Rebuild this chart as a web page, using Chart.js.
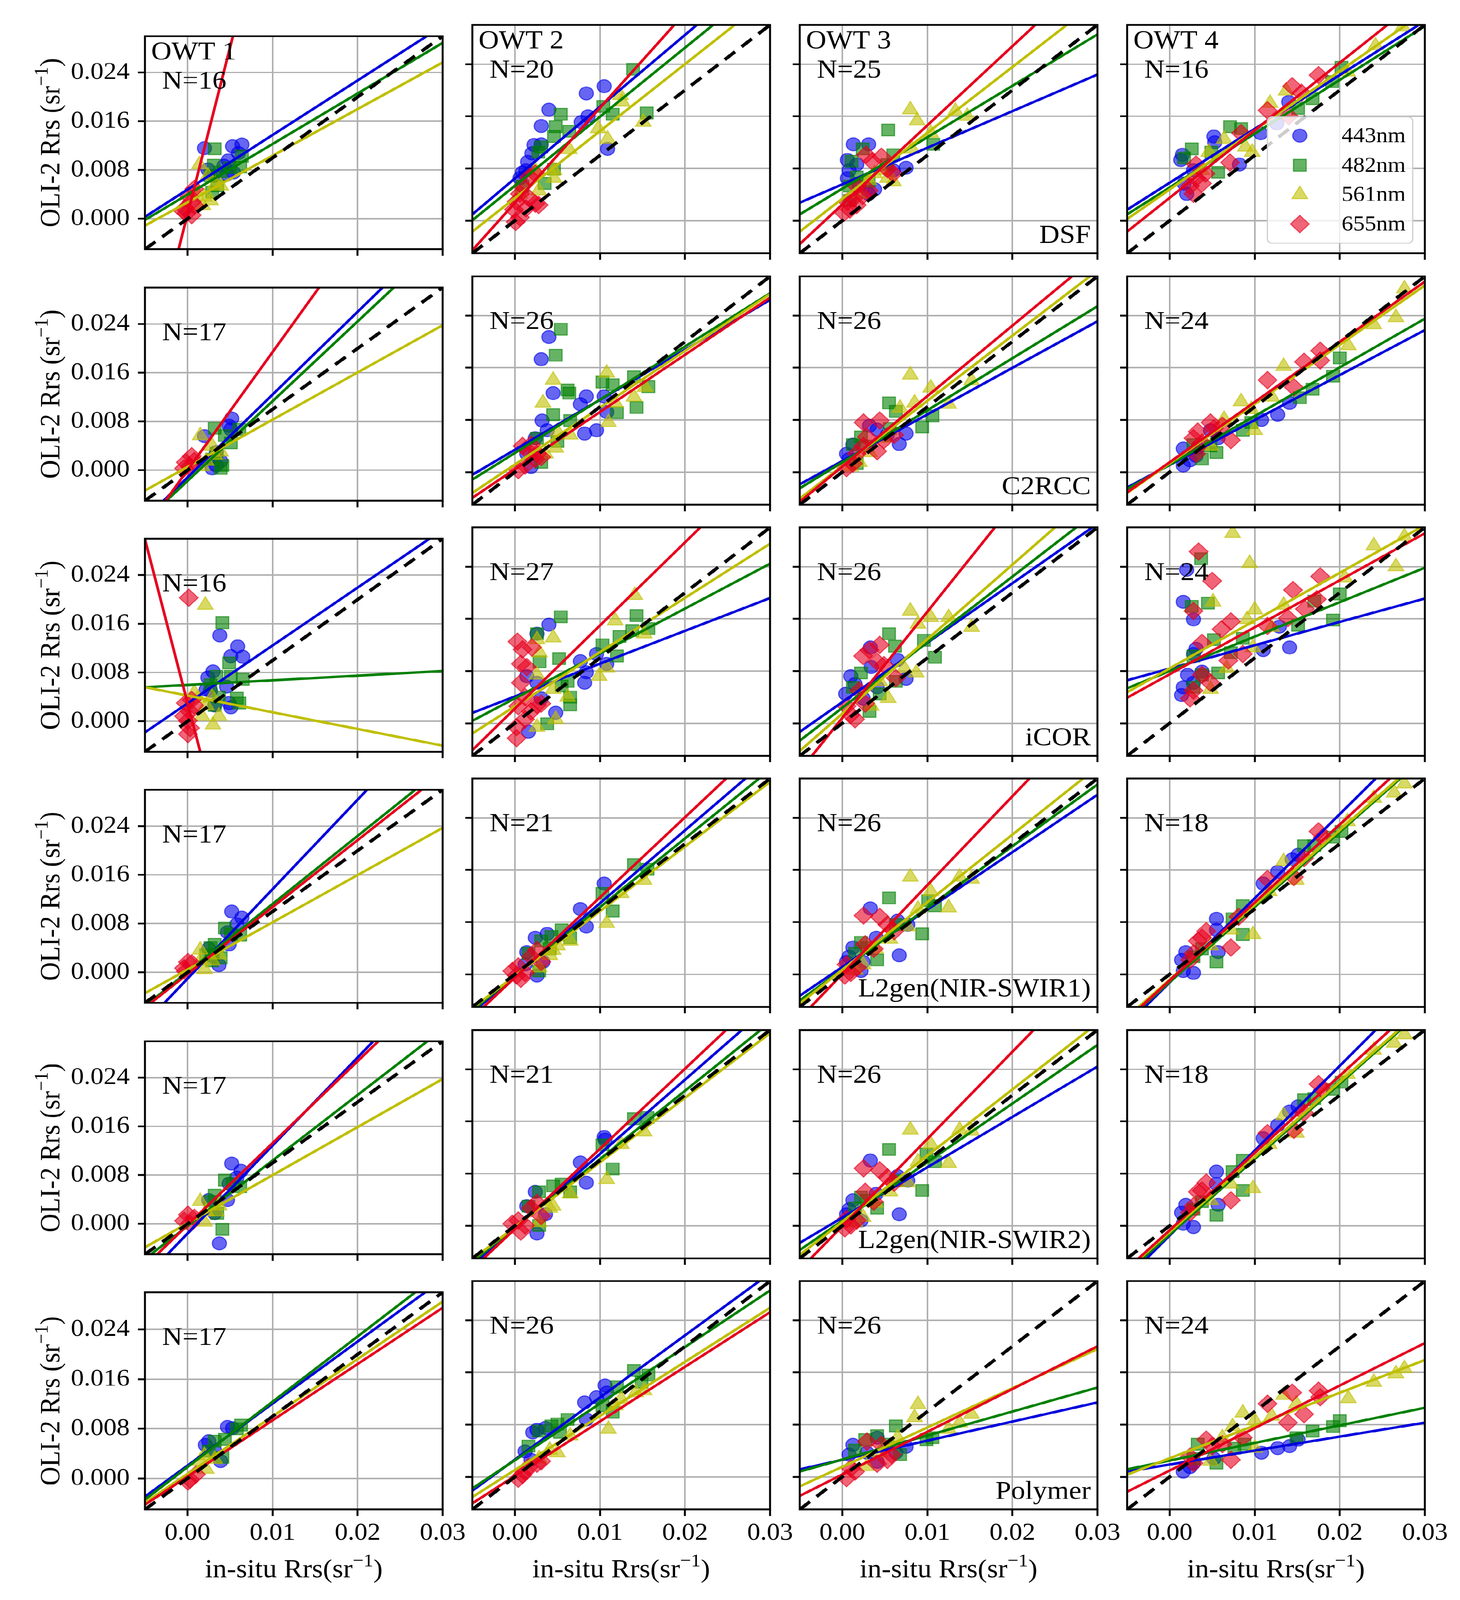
<!DOCTYPE html>
<html>
<head>
<meta charset="utf-8">
<script src="https://cdn.jsdelivr.net/npm/chart.js@4.4.1/dist/chart.umd.min.js"></script>
<style>
html, body { margin: 0; padding: 0; background: #fff; overflow: hidden; }
#page { position: relative; width: 3737px; height: 4435px; background: #fff; overflow: hidden; transform-origin: 0 0; }
#page canvas { position: absolute; }
</style>
</head>
<body>
<div id="page"></div>
<script>
// all values in units of 1e-3 sr^-1 (axis labels are printed in sr^-1)
const bands = ["443nm", "482nm", "561nm", "655nm"];
const owtNames = ["OWT 1", "OWT 2", "OWT 3", "OWT 4"];
const methods = ["DSF", "C2RCC", "iCOR", "L2gen(NIR-SWIR1)", "L2gen(NIR-SWIR2)", "Polymer"];
const axisMin = -5, axisMax = 30;
const xTicks = [0, 10, 20, 30];
const xTickLabels = ["0.00", "0.01", "0.02", "0.03"];
const yTicks = [0, 8, 16, 24];
const yTickLabels = ["0.000", "0.008", "0.016", "0.024"];
const oneToOne = [[-5, -5], [30, 30]];

// N per OWT
const dsf_n = [16, 20, 25, 16];
const c2rcc_n = [17, 26, 26, 24];
const icor_n = [16, 27, 26, 24];
const swir1_n = [17, 21, 26, 18];
const swir2_n = [17, 21, 26, 18];
const poly_n = [17, 26, 26, 24];

// regression lines, per OWT: [443, 482, 561, 655]
const dsf_slope = [[0.896, 0.831, 0.766, 5.48], [1.10, 1.058, 1.027, 1.455], [0.561, 0.788, 1.009, 1.213], [0.826, 0.824, 0.907, 1.035]];
const dsf_icpt = [[4.8, 3.97, 2.7, 0.72], [6.46, 5.34, 3.45, 2.73], [5.56, 4.9, 3.36, 2.47], [5.8, 5.08, 4.78, 3.5]];
const c2rcc_slope = [[1.36, 1.31, 0.776, 1.94], [0.766, 0.816, 0.871, 0.877], [0.714, 0.797, 0.999, 1.08], [0.689, 0.746, 0.909, 0.923]];
const c2rcc_icpt = [[-1.18, -1.76, 0.54, 0.0], [3.42, 2.93, 1.16, 0.44], [1.69, 1.5, 0.93, 0.84], [1.09, 1.13, 1.34, 1.51]];
const icor_slope = [[0.951, 0.0763, -0.274, -5.37], [0.503, 0.688, 0.831, 1.274], [0.911, 1.0055, 1.142, 1.628], [0.358, 0.528, 0.732, 0.72]];
const icor_icpt = [[2.94, 5.98, 4.23, 3.05], [4.09, 3.8, 2.58, 2.23], [3.22, 2.35, 1.45, 0.8], [8.36, 7.99, 8.4, 7.5]];
const swir1_slope = [[1.47, 1.118, 0.776, 1.10], [1.118, 1.054, 0.991, 1.228], [0.88, 0.946, 1.036, 1.362], [1.29, 1.151, 1.146, 1.195]];
const swir1_icpt = [[-1.03, 0.06, 0.47, -0.27], [-0.3, -0.26, -0.24, -0.5], [1.11, 0.71, 0.68, 0.04], [-1.25, -1.2, -0.82, -0.94]];
const swir2_slope = [[1.446, 1.077, 0.79, 1.346], [1.138, 1.048, 0.99, 1.228], [0.772, 0.898, 1.014, 1.336], [1.30, 1.156, 1.151, 1.184]];
const swir2_icpt = [[-1.59, -0.37, 0.1, -0.2], [-0.38, -0.28, -0.2, -0.5], [1.23, 0.76, 0.61, -0.06], [-1.49, -1.34, -0.97, -0.68]];
const poly_slope = [[1.0, 1.052, 0.926, 0.907], [0.952, 0.867, 0.829, 0.837], [0.293, 0.368, 0.602, 0.655], [0.214, 0.27, 0.502, 0.651]];
const poly_icpt = [[2.07, 1.84, 0.73, 0.3], [2.64, 2.55, 1.04, 0.12], [2.61, 2.65, 1.54, 0.35], [1.88, 2.49, 2.84, 0.97]];

// ---- DSF ----
const dsf_o1_443 = [[2.0,11.6],[5.3,11.9],[6.4,12.2],[6.0,10.8],[4.8,9.6],[2.4,8.1],[4.65,7.3],[3.1,7.05],[4.3,8.7],[5.4,7.6]];
const dsf_o1_482 = [[3.2,11.5],[6.4,10.3],[6.2,8.5],[3.1,8.8],[2.7,7.05],[3.9,7.7],[3.5,5.4],[2.9,4.4],[5.0,8.4]];
const dsf_o1_561 = [[1.4,8.9],[2.4,7.05],[3.3,5.7],[3.9,5.4],[2.0,3.6],[1.8,2.2],[1.0,4.4],[2.7,3.0]];
const dsf_o1_655 = [[0.8,4.9],[0.1,3.8],[0.5,2.8],[-0.3,1.7],[-0.1,0.9],[0.5,0.6],[0.8,2.2],[-0.5,1.3]];
const dsf_o2_443 = [[10.5,20.6],[8.4,19.5],[4.0,17.0],[3.1,14.5],[7.8,15.1],[8.6,16.0],[2.25,11.6],[3.1,11.7],[2.0,10.3],[10.9,11.0],[0.9,7.4],[0.6,6.5],[1.3,7.7],[1.5,9.0]];
const dsf_o2_482 = [[13.9,23.2],[5.4,16.3],[15.5,16.5],[10.4,17.5],[11.5,16.3],[4.8,14.4],[6.4,13.7],[4.6,12.9],[3.1,11.3],[2.75,10.5],[4.6,7.9],[3.5,5.7],[0.9,5.3]];
const dsf_o2_561 = [[12.4,19.2],[12.6,18.2],[9.8,14.1],[15.1,15.1],[10.9,12.5],[6.4,10.9],[4.6,7.7],[4.6,6.5],[2.8,4.6],[0.6,4.1],[2.4,7.7]];
const dsf_o2_655 = [[1.7,6.7],[2.4,7.2],[0.9,5.3],[0.6,4.1],[0.2,2.9],[-0.1,1.7],[0.6,0.5],[2.4,2.6],[1.7,3.4],[0.1,-0.2],[1.3,1.9],[2.8,2.4]];
const dsf_o3_443 = [[1.3,11.7],[3.1,11.7],[0.6,9.3],[1.7,8.6],[7.5,8.1],[6.0,7.7],[0.6,6.5],[3.8,4.8],[3.1,4.1],[0.8,7.7],[2.0,5.3]];
const dsf_o3_482 = [[5.4,13.9],[10.7,11.7],[2.4,11.0],[6.0,10.1],[5.3,8.6],[1.1,9.1],[1.7,6.7],[3.1,6.0],[0.9,5.3],[0.9,3.1]];
const dsf_o3_561 = [[8.0,17.0],[8.8,15.3],[13.3,16.8],[14.7,16.0],[10.4,13.4],[8.2,11.0],[4.6,7.7],[5.3,6.5],[3.1,6.2],[6.0,6.0],[2.0,4.1],[3.8,7.2]];
const dsf_o3_655 = [[2.8,10.1],[4.6,9.8],[3.5,9.1],[6.0,7.2],[5.3,7.9],[1.7,5.3],[2.4,3.8],[0.6,2.9],[0.9,1.7],[0.2,1.2],[1.7,2.4],[1.3,3.4],[3.1,4.6]];
const dsf_o4_443 = [[1.5,10.1],[1.3,9.3],[5.2,12.9],[5.3,12.0],[10.7,13.4],[12.6,14.9],[14.0,18.2],[1.7,5.7],[2.0,4.1],[2.8,7.7],[8.2,8.6]];
const dsf_o4_482 = [[7.1,14.4],[8.4,14.1],[2.6,11.0],[4.9,10.5],[5.7,7.4],[15.1,17.2],[16.8,18.7],[19.1,21.3],[20.2,23.5],[1.7,9.6]];
const dsf_o4_561 = [[11.8,18.0],[13.7,19.9],[8.9,11.3],[9.7,10.5],[6.4,12.5],[4.6,10.5],[20.9,22.8],[24.2,26.8],[27.4,29.7],[3.8,7.7]];
const dsf_o4_655 = [[17.5,22.3],[14.4,20.6],[15.5,19.6],[11.5,16.9],[14.0,16.0],[8.4,13.4],[7.1,8.9],[3.1,8.6],[3.1,6.5],[2.4,5.3],[2.8,4.1],[3.8,5.7],[4.2,7.2]];

// ---- C2RCC ----
const c2rcc_o1_443 = [[5.2,8.5],[4.9,7.3],[2.0,5.6],[3.4,3.0],[3.4,0.8],[2.9,0.3],[5.1,6.7],[3.9,1.5]];
const c2rcc_o1_482 = [[3.2,6.9],[4.4,5.7],[5.1,4.5],[6.1,6.7],[4.1,0.8],[3.4,2.8],[2.9,1.8],[3.9,0.3]];
const c2rcc_o1_561 = [[1.5,5.7],[2.9,4.0],[3.9,3.0],[2.2,1.5],[1.7,0.6],[3.2,2.5]];
const c2rcc_o1_655 = [[0.5,2.3],[-0.2,1.3],[0.3,0.6],[-0.4,0.3],[0.8,1.5]];
const c2rcc_o2_443 = [[4.0,20.7],[3.1,17.3],[4.5,12.1],[8.4,11.6],[7.7,10.4],[10.8,9.2],[10.5,11.6],[3.2,7.9],[8.2,5.9],[9.6,6.4],[2.4,5.2],[1.9,0.8],[3.8,6.4],[1.4,2.8]];
const c2rcc_o2_482 = [[5.4,21.9],[4.8,17.9],[6.2,12.6],[6.4,12.1],[10.3,13.8],[11.5,13.4],[14.0,14.6],[15.7,13.1],[14.3,9.9],[12.0,9.1],[4.5,8.8],[6.5,7.9],[5.0,4.7],[2.6,5.2],[3.1,1.5]];
const c2rcc_o2_561 = [[10.8,15.2],[4.5,14.1],[3.3,10.6],[14.0,11.5],[15.3,13.0],[11.0,7.6],[11.8,10.6],[6.5,5.7],[4.8,3.7],[3.6,2.8],[5.0,6.2]];
const c2rcc_o2_655 = [[0.9,4.0],[1.6,3.2],[2.4,2.0],[0.4,0.3],[1.2,1.0],[2.6,2.8],[1.9,4.2],[3.1,2.3]];
const c2rcc_o3_443 = [[3.2,7.1],[4.1,6.5],[7.5,5.9],[6.7,4.3],[0.8,2.0],[1.25,4.2],[0.5,2.8],[5.3,5.7]];
const c2rcc_o3_482 = [[5.5,10.6],[6.3,9.3],[10.6,8.6],[9.4,6.9],[2.2,5.4],[1.25,4.2],[1.7,1.3],[5.6,6.7],[2.9,4.0]];
const c2rcc_o3_561 = [[8.0,14.9],[15.2,14.0],[10.4,12.9],[8.5,10.6],[12.5,10.4],[6.8,9.8],[4.9,5.2],[3.2,3.0],[2.0,1.5],[1.0,0.8]];
const c2rcc_o3_655 = [[2.5,7.6],[4.4,7.9],[2.9,5.4],[4.9,4.9],[6.1,5.7],[4.1,3.2],[1.7,2.8],[0.5,0.6],[1.25,1.3],[2.5,4.0]];
const c2rcc_o4_443 = [[1.6,3.6],[1.6,1.0],[2.4,1.8],[4.8,6.4],[5.7,5.2],[10.8,8.0],[12.7,8.8],[14.1,10.6],[3.1,2.5],[3.3,3.7]];
const c2rcc_o4_482 = [[2.8,4.2],[3.8,2.0],[5.5,3.0],[8.6,6.4],[9.6,7.6],[15.3,11.4],[16.8,12.7],[19.2,14.7],[20.0,17.5],[4.8,4.0]];
const c2rcc_o4_561 = [[13.4,16.2],[21.0,19.4],[24.0,22.6],[26.6,23.7],[27.6,28.1],[12.0,11.5],[8.4,10.8],[9.6,9.6],[10.0,6.4],[6.4,8.1],[4.8,4.0]];
const c2rcc_o4_655 = [[17.7,18.6],[15.8,16.9],[17.7,17.1],[11.5,14.1],[14.6,13.0],[4.8,7.6],[7.2,4.9],[3.3,6.2],[2.8,5.2],[5.2,6.7],[3.8,4.5],[3.1,2.8],[6.2,7.1]];

// ---- iCOR ----
const icor_o1_443 = [[3.8,14.1],[5.9,12.3],[5.1,10.7],[6.5,10.6],[3.0,8.2],[2.4,7.2],[4.6,5.7],[2.2,5.2],[4.9,3.0],[5.1,2.3],[3.2,2.6],[2.7,5.0]];
const icor_o1_482 = [[4.1,16.2],[4.9,9.6],[3.4,7.4],[5.1,7.4],[6.5,6.9],[2.7,6.0],[5.8,3.8],[6.1,3.0],[3.2,2.6],[3.7,4.0]];
const icor_o1_561 = [[2.1,19.1],[0.8,4.7],[2.9,4.0],[1.7,0.85],[3.7,0.85],[3.0,-0.6],[1.25,3.8],[2.2,2.6]];
const icor_o1_655 = [[0.15,20.3],[-0.2,3.0],[0.3,1.6],[0.05,0.1],[0.3,-1.1],[0.05,-2.1],[0.8,2.6],[-0.4,0.85],[0.5,3.5]];
const icor_o2_443 = [[4.0,15.1],[2.6,13.7],[7.7,9.5],[8.4,7.8],[8.2,6.2],[9.6,10.6],[10.8,9.1],[4.8,1.6],[1.6,-1.3],[1.4,7.2],[2.6,6.2],[3.1,3.8]];
const icor_o2_482 = [[5.4,16.3],[14.3,16.5],[13.8,14.2],[15.7,14.5],[12.3,13.3],[10.3,12.0],[12.0,10.3],[5.2,9.9],[2.6,13.7],[2.9,9.4],[6.2,6.4],[6.5,4.0],[6.5,2.8],[3.8,-0.1],[5.5,5.7]];
const icor_o2_561 = [[14.1,19.6],[11.8,15.7],[4.5,13.1],[2.6,12.8],[15.2,13.7],[10.8,8.5],[9.9,7.2],[6.2,4.0],[4.5,5.2],[2.6,-0.6],[4.8,0.6],[2.9,10.8],[2.6,7.4]];
const icor_o2_655 = [[0.3,12.5],[0.9,11.3],[2.0,11.6],[0.7,9.1],[1.4,8.6],[0.7,6.2],[1.2,4.0],[0.4,2.6],[2.6,2.8],[1.2,0.6],[0.2,-0.6],[0.2,-2.3],[1.9,1.8],[3.1,3.0]];
const icor_o3_443 = [[3.3,11.6],[6.5,9.7],[7.5,6.8],[1.0,7.2],[0.4,4.5],[4.1,5.5],[1.5,6.0],[2.45,3.8],[3.4,8.6]];
const icor_o3_482 = [[5.5,13.7],[6.2,11.8],[9.6,12.7],[10.9,10.1],[2.2,7.7],[6.3,6.4],[4.4,4.5],[3.2,1.8],[1.25,5.5]];
const icor_o3_561 = [[8.0,17.2],[10.4,16.2],[12.5,16.2],[15.2,14.7],[8.9,15.2],[8.7,7.7],[7.3,8.4],[5.4,3.8],[3.4,2.6],[4.4,6.4]];
const icor_o3_655 = [[4.4,12.0],[3.2,11.2],[2.45,10.3],[4.1,9.4],[4.9,8.9],[6.3,6.9],[2.0,5.0],[2.7,3.0],[0.5,2.6],[1.5,0.6],[1.0,1.3]];
const icor_o4_443 = [[2.0,23.5],[1.6,18.6],[2.8,15.9],[12.9,14.8],[14.1,11.6],[11.0,11.2],[3.1,11.4],[2.8,10.6],[2.1,7.4],[1.6,5.5],[1.4,4.3],[2.8,6.2],[3.8,7.9]];
const icor_o4_482 = [[3.7,25.2],[2.6,17.9],[4.5,18.4],[20.0,19.8],[19.2,15.8],[15.1,15.0],[17.0,18.7],[8.6,13.0],[5.2,12.8],[2.8,10.3],[7.2,10.8],[3.8,7.4],[2.8,5.5],[5.7,7.7]];
const icor_o4_561 = [[7.4,29.1],[9.4,24.5],[26.6,24.0],[27.6,28.6],[24.0,27.2],[5.1,18.6],[10.0,17.4],[13.4,18.1],[9.1,15.9],[20.6,22.3],[12.0,14.7],[6.7,8.4],[4.8,5.2],[9.8,11.6]];
const icor_o4_655 = [[3.4,26.3],[5.0,21.8],[17.7,22.5],[14.5,20.4],[17.3,19.0],[15.9,17.5],[13.9,16.1],[7.2,15.6],[6.1,14.4],[2.8,17.2],[11.5,14.9],[3.8,12.3],[8.6,10.6],[6.9,9.6],[3.8,7.4],[2.8,5.0],[4.8,6.2],[2.4,3.8]];

// ---- L2gen(NIR-SWIR1) ----
const swir1_o1_443 = [[5.2,10.0],[6.4,9.0],[5.8,7.9],[4.7,6.6],[4.9,4.6],[2.5,3.9],[3.7,1.2],[2.9,2.7]];
const swir1_o1_482 = [[4.4,7.3],[5.1,6.3],[6.2,6.1],[3.2,4.6],[2.7,4.1],[3.9,2.4],[2.9,1.9],[2.2,2.9]];
const swir1_o1_561 = [[1.5,3.7],[2.9,1.9],[2.0,0.5],[3.7,2.9],[1.5,1.9]];
const swir1_o1_655 = [[0.05,1.7],[-0.4,0.7],[0.5,1.5],[-0.2,0.2]];
const swir1_o2_443 = [[10.5,13.9],[7.7,10.0],[8.4,7.3],[2.4,5.6],[3.8,6.2],[1.4,3.4],[2.6,-0.2],[3.3,1.9],[1.2,1.5]];
const swir1_o2_482 = [[14.0,16.8],[15.6,16.1],[10.3,12.4],[11.5,9.7],[5.5,6.8],[6.5,5.6],[4.3,5.8],[3.1,5.1],[1.6,3.2],[2.85,0.5],[4.1,3.9]];
const swir1_o2_561 = [[15.2,14.4],[12.5,12.4],[10.8,7.8],[6.5,5.1],[4.5,3.7],[4.1,2.9],[2.85,1.0],[5.0,4.4]];
const swir1_o2_655 = [[2.6,3.7],[1.9,2.7],[0.4,1.2],[-0.3,0.5],[0.7,-0.7],[1.2,0.2],[3.1,1.9],[0.2,-0.2]];
const swir1_o3_443 = [[3.3,10.1],[6.5,8.2],[7.7,7.6],[4.0,5.6],[1.25,4.1],[0.8,2.7],[0.5,1.9],[2.2,0.5],[6.7,2.9],[2.45,1.9]];
const swir1_o3_482 = [[5.5,11.7],[10.1,11.3],[10.9,10.5],[9.4,6.2],[6.3,7.6],[2.2,4.9],[4.1,2.2],[1.5,3.2],[2.9,4.1]];
const swir1_o3_561 = [[8.0,14.9],[10.4,12.7],[12.5,10.2],[13.8,14.9],[15.2,14.6],[8.9,10.0],[7.7,7.3],[5.6,5.4],[3.9,3.9],[2.45,1.5],[1.5,0.7]];
const swir1_o3_655 = [[2.5,9.0],[4.4,8.8],[5.3,7.6],[6.1,6.6],[3.7,3.9],[2.7,4.6],[0.5,1.5],[1.0,0.2],[0.3,-0.2],[1.7,1.0]];
const swir1_o4_443 = [[5.5,8.5],[11.0,13.9],[12.7,15.7],[14.4,17.6],[15.1,18.3],[1.9,3.4],[1.4,2.2],[1.6,0.5],[2.8,0.2],[5.5,6.8],[5.7,3.4]];
const swir1_o4_482 = [[8.6,10.5],[7.4,8.5],[8.6,6.1],[5.5,1.9],[2.8,2.7],[15.8,19.7],[17.0,19.7],[19.2,21.0],[20.2,21.9],[3.8,3.9]];
const swir1_o4_561 = [[13.4,17.3],[14.9,14.4],[11.7,12.7],[20.9,23.4],[24.0,27.0],[26.4,27.8],[27.6,29.2],[9.8,6.1],[7.2,6.8],[4.8,4.4]];
const swir1_o4_655 = [[17.5,21.9],[18.0,21.0],[11.5,14.6],[14.6,14.9],[15.8,17.8],[7.2,4.1],[4.3,6.6],[3.3,5.1],[2.8,3.2],[3.8,5.6],[2.4,2.2],[8.1,8.8]];

// ---- L2gen(NIR-SWIR2) ----
const swir2_o1_443 = [[5.2,9.9],[6.3,8.7],[4.9,6.6],[4.7,3.9],[2.5,3.9],[3.75,-3.2],[3.2,1.75],[5.8,7.6]];
const swir2_o1_482 = [[4.4,7.2],[6.2,6.1],[5.3,6.6],[3.2,4.7],[3.5,1.75],[4.1,-0.9],[2.7,3.7]];
const swir2_o1_561 = [[1.5,3.7],[2.0,0.3],[3.7,3.0],[2.2,2.0],[3.4,2.0]];
const swir2_o1_655 = [[0.05,1.5],[-0.4,0.5],[0.8,1.0],[0.3,0.05]];
const swir2_o2_443 = [[10.5,13.6],[10.6,13.2],[7.7,9.7],[8.4,6.6],[2.4,5.2],[1.4,3.0],[2.6,-1.2],[3.6,1.75]];
const swir2_o2_482 = [[14.0,16.4],[15.6,16.6],[10.3,12.4],[11.5,8.7],[5.5,6.4],[6.5,5.2],[4.5,6.1],[2.85,5.2],[1.6,3.0],[2.85,0.05]];
const swir2_o2_561 = [[15.2,14.4],[12.5,12.5],[10.8,7.1],[6.5,4.9],[4.5,3.0],[4.1,2.7],[2.85,0.5]];
const swir2_o2_655 = [[2.6,3.5],[1.9,2.7],[0.4,0.8],[-0.3,0.3],[0.7,-0.9],[1.2,0.05],[3.1,1.5]];
const swir2_o3_443 = [[3.3,10.0],[6.5,7.6],[7.7,6.9],[4.0,4.9],[1.25,3.9],[0.8,2.5],[0.5,1.75],[2.2,0.8],[6.7,1.75]];
const swir2_o3_482 = [[5.5,11.7],[9.9,11.0],[10.9,9.8],[9.4,5.4],[6.3,6.9],[2.2,4.4],[4.1,2.7],[1.5,2.7],[2.9,3.9]];
const swir2_o3_561 = [[8.0,14.7],[10.4,12.5],[12.5,9.6],[13.8,14.7],[15.2,14.5],[8.9,9.8],[7.7,6.6],[5.6,5.2],[3.9,3.5],[2.45,1.3],[1.5,0.5]];
const swir2_o3_655 = [[2.5,8.8],[4.4,8.5],[5.3,7.4],[6.1,6.6],[3.7,3.7],[2.7,5.2],[0.5,1.0],[1.0,0.05],[0.3,-0.4],[1.7,0.8]];
const swir2_o4_443 = [[5.5,8.3],[11.0,13.4],[12.7,15.4],[14.1,17.5],[15.1,18.3],[1.9,3.2],[1.4,2.0],[1.6,0.3],[2.8,-0.2],[5.5,6.4],[5.7,3.2]];
const swir2_o4_482 = [[8.6,10.0],[7.4,8.3],[8.6,5.4],[5.5,1.6],[2.8,2.5],[15.8,19.3],[17.0,19.5],[19.2,20.9],[20.2,22.0],[3.8,3.7]];
const swir2_o4_561 = [[13.4,16.9],[14.9,14.2],[11.7,12.5],[20.9,23.2],[24.0,26.9],[26.4,28.0],[27.6,29.3],[9.8,5.7],[7.2,6.4],[4.8,3.9]];
const swir2_o4_655 = [[17.5,21.7],[18.0,20.8],[11.5,14.2],[14.6,14.7],[15.8,17.3],[7.2,3.9],[4.3,6.6],[3.3,5.2],[2.8,3.0],[3.8,5.4],[2.4,2.0]];

// ---- Polymer ----
const poly_o1_443 = [[4.7,8.3],[5.3,8.1],[2.1,5.4],[2.5,6.0],[3.9,2.8],[3.2,4.4]];
const poly_o1_482 = [[6.3,8.6],[5.8,8.0],[3.2,6.0],[4.4,6.3],[4.1,3.4],[2.5,4.4]];
const poly_o1_561 = [[2.0,3.7],[2.2,1.5],[1.5,2.8],[3.2,3.1]];
const poly_o1_655 = [[0.3,-0.2],[1.0,0.65],[0.05,-0.5]];
const poly_o2_443 = [[10.6,14.0],[10.8,12.9],[9.6,12.2],[8.2,11.4],[8.4,8.8],[2.6,7.2],[2.1,6.8],[3.6,7.5],[1.2,3.9],[1.9,2.6]];
const poly_o2_482 = [[14.0,16.3],[15.7,15.6],[14.9,14.5],[12.0,13.8],[11.5,9.9],[10.3,10.9],[6.2,8.8],[5.0,8.1],[4.3,7.8],[5.3,6.8],[2.85,7.0],[1.6,4.7]];
const poly_o2_561 = [[14.2,12.9],[15.2,13.2],[12.5,11.9],[11.8,10.9],[11.0,7.3],[6.5,6.3],[5.0,3.7],[4.1,4.1],[2.85,2.8]];
const poly_o2_655 = [[3.1,2.4],[2.6,2.0],[1.6,1.5],[0.9,0.3],[0.4,-0.3],[1.2,0.8]];
const poly_o3_443 = [[1.25,4.9],[4.1,6.0],[7.5,4.6],[6.3,3.7],[4.1,2.3],[0.8,3.4],[2.9,3.7]];
const poly_o3_482 = [[2.7,5.7],[4.1,6.3],[6.3,7.8],[9.9,5.7],[10.6,6.0],[1.5,4.1],[5.3,5.0],[6.8,3.4]];
const poly_o3_561 = [[8.9,11.1],[8.5,9.1],[15.2,9.6],[13.8,8.3],[12.5,7.3],[6.5,6.0],[4.4,3.7],[2.9,1.6]];
const poly_o3_655 = [[2.9,5.4],[4.6,4.9],[5.8,3.4],[5.3,2.6],[4.1,2.0],[1.5,0.8],[0.5,-0.2],[1.0,1.3]];
const poly_o4_443 = [[1.6,0.8],[2.4,1.5],[10.8,3.7],[12.7,4.4],[14.1,4.7],[15.1,5.7],[5.2,2.8],[2.8,2.1]];
const poly_o4_482 = [[3.3,5.0],[5.5,2.1],[7.6,4.4],[16.8,7.0],[19.2,7.7],[20.0,8.6],[8.8,5.0],[14.9,6.0],[2.8,2.8]];
const poly_o4_561 = [[8.6,9.8],[10.0,8.6],[12.0,9.3],[13.4,12.5],[14.9,11.2],[21.0,12.0],[24.0,14.5],[26.6,15.8],[27.6,16.6],[7.4,7.7],[10.0,4.4],[4.8,2.4],[6.2,6.0]];
const poly_o4_655 = [[11.5,11.2],[14.4,12.9],[17.5,13.2],[17.7,12.2],[15.8,9.6],[13.9,8.3],[7.2,2.6],[8.6,6.0],[4.3,5.7],[5.0,4.7],[2.8,2.1],[2.4,3.1],[6.2,5.0]];

// tables built from the arrays above: [method row][owt column][band]
const panelPoints = [
  [[dsf_o1_443, dsf_o1_482, dsf_o1_561, dsf_o1_655], [dsf_o2_443, dsf_o2_482, dsf_o2_561, dsf_o2_655],
   [dsf_o3_443, dsf_o3_482, dsf_o3_561, dsf_o3_655], [dsf_o4_443, dsf_o4_482, dsf_o4_561, dsf_o4_655]],
  [[c2rcc_o1_443, c2rcc_o1_482, c2rcc_o1_561, c2rcc_o1_655], [c2rcc_o2_443, c2rcc_o2_482, c2rcc_o2_561, c2rcc_o2_655],
   [c2rcc_o3_443, c2rcc_o3_482, c2rcc_o3_561, c2rcc_o3_655], [c2rcc_o4_443, c2rcc_o4_482, c2rcc_o4_561, c2rcc_o4_655]],
  [[icor_o1_443, icor_o1_482, icor_o1_561, icor_o1_655], [icor_o2_443, icor_o2_482, icor_o2_561, icor_o2_655],
   [icor_o3_443, icor_o3_482, icor_o3_561, icor_o3_655], [icor_o4_443, icor_o4_482, icor_o4_561, icor_o4_655]],
  [[swir1_o1_443, swir1_o1_482, swir1_o1_561, swir1_o1_655], [swir1_o2_443, swir1_o2_482, swir1_o2_561, swir1_o2_655],
   [swir1_o3_443, swir1_o3_482, swir1_o3_561, swir1_o3_655], [swir1_o4_443, swir1_o4_482, swir1_o4_561, swir1_o4_655]],
  [[swir2_o1_443, swir2_o1_482, swir2_o1_561, swir2_o1_655], [swir2_o2_443, swir2_o2_482, swir2_o2_561, swir2_o2_655],
   [swir2_o3_443, swir2_o3_482, swir2_o3_561, swir2_o3_655], [swir2_o4_443, swir2_o4_482, swir2_o4_561, swir2_o4_655]],
  [[poly_o1_443, poly_o1_482, poly_o1_561, poly_o1_655], [poly_o2_443, poly_o2_482, poly_o2_561, poly_o2_655],
   [poly_o3_443, poly_o3_482, poly_o3_561, poly_o3_655], [poly_o4_443, poly_o4_482, poly_o4_561, poly_o4_655]]
];
const panelSlope = [dsf_slope, c2rcc_slope, icor_slope, swir1_slope, swir2_slope, poly_slope];
const panelIcpt = [dsf_icpt, c2rcc_icpt, icor_icpt, swir1_icpt, swir2_icpt, poly_icpt];
const panelN = [dsf_n, c2rcc_n, icor_n, swir1_n, swir2_n, poly_n];

// styles
const lineColors = ["#0000dd", "#008000", "#bfbf00", "#e6001e"];
const markerColors = ["rgba(0,0,235,0.6)", "rgba(0,128,0,0.6)", "rgba(191,191,0,0.6)", "rgba(230,0,30,0.6)"];
const markerShapes = ["circle", "rect", "triangle", "rectRot"];
const markerSizes = [18, 23, 23, 24];
const FONT = "Liberation Serif";

// layout (design pixels, 3737 x 4435)
const colLeft = [371, 1209, 2047, 2885];
const rowTop = [69, 766, 1462, 2158, 2855, 3551];
const panelW = 762, panelH = 633;
const pageW = 3737, pageH = 4435;

// the window may be shorter than the design height: squeeze the page to fit it
const page = document.getElementById("page");
const fitY = Math.min(1, (window.innerHeight || pageH) / pageH);
const fitX = Math.min(1, (window.innerWidth || pageW) / pageW);
page.style.transform = "scale(" + fitX + "," + fitY + ")";

Chart.defaults.font.family = FONT;

function drawSupText(ctx, x, y, parts, size) {
  const fonts = parts.map(p => (p[1] ? Math.round(size * 0.7) : size) + 'px "' + FONT + '"');
  let total = 0;
  const widths = parts.map((p, i) => {
    ctx.font = fonts[i];
    const w = ctx.measureText(p[0]).width;
    total += w;
    return w;
  });
  let cx = x - total / 2;
  ctx.textAlign = "left";
  ctx.textBaseline = "alphabetic";
  parts.forEach((p, i) => {
    ctx.font = fonts[i];
    ctx.fillText(p[0], cx, p[1] ? y - size * 0.42 : y);
    cx += widths[i];
  });
}

const panelDecor = {
  id: "panelDecor",
  afterDraw(chart, args, opts) {
    const ctx = chart.ctx;
    const ca = chart.chartArea;
    ctx.save();
    // frame
    ctx.strokeStyle = "#000";
    ctx.lineWidth = 5;
    ctx.strokeRect(ca.left, ca.top, ca.right - ca.left, ca.bottom - ca.top);

    ctx.fillStyle = "#000";
    ctx.textBaseline = "alphabetic";
    ctx.font = '72px "' + FONT + '"';
    ctx.textAlign = "left";
    if (opts.row === 0) ctx.fillText(owtNames[opts.col], ca.left + 16, ca.top + 65);
    ctx.fillText("N=" + panelN[opts.row][opts.col], ca.left + 44, ca.top + 146);
    if (opts.col === 2) {
      ctx.textAlign = "right";
      ctx.fillText(methods[opts.row], ca.right - 17, ca.bottom - 29);
    }

    // axis titles
    if (opts.col === 0) {
      ctx.save();
      ctx.translate(152, (ca.top + ca.bottom) / 2);
      ctx.rotate(-Math.PI / 2);
      drawSupText(ctx, 0, 0, [["OLI-2 Rrs (sr", 0], ["\u22121", 1], [")", 0]], 72);
      ctx.restore();
    }
    if (opts.row === 5) {
      drawSupText(ctx, (ca.left + ca.right) / 2, ca.bottom + 188, [["in-situ Rrs(sr", 0], ["\u22121", 1], [")", 0]], 72);
    }

    // legend
    if (opts.row === 0 && opts.col === 3) {
      const bx = ca.right - 403, by = ca.top + 255, bw = 372, bh = 350, rr = 12;
      ctx.beginPath();
      ctx.moveTo(bx + rr, by);
      ctx.arcTo(bx + bw, by, bx + bw, by + bh, rr);
      ctx.arcTo(bx + bw, by + bh, bx, by + bh, rr);
      ctx.arcTo(bx, by + bh, bx, by, rr);
      ctx.arcTo(bx, by, bx + bw, by, rr);
      ctx.closePath();
      ctx.fillStyle = "rgba(255,255,255,0.8)";
      ctx.fill();
      ctx.strokeStyle = "#cccccc";
      ctx.lineWidth = 3;
      ctx.stroke();
      const rowsY = [52, 134, 215, 297];
      bands.forEach((name, b) => {
        ctx.fillStyle = markerColors[b];
        ctx.strokeStyle = markerColors[b];
        ctx.lineWidth = 3;
        Chart.helpers.drawPoint(ctx, { pointStyle: markerShapes[b], radius: markerSizes[b], rotation: 0, borderWidth: 3 },
          bx + 83, by + rowsY[b]);
        ctx.fillStyle = "#000";
        ctx.font = '59px "' + FONT + '"';
        ctx.textAlign = "left";
        ctx.textBaseline = "middle";
        ctx.fillText(name, bx + 190, by + rowsY[b] + 2);
      });
    }
    ctx.restore();
  }
};

function makePanel(r, c) {
  const ml = c === 0 ? colLeft[0] : 60;
  const mt = 30, mr = 70;
  const mb = r === 5 ? pageH - (rowTop[5] + panelH) : 50;
  const w = ml + panelW + mr, h = mt + panelH + mb;
  const cv = document.createElement("canvas");
  cv.width = w;
  cv.height = h;
  cv.style.left = (colLeft[c] - ml) + "px";
  cv.style.top = (rowTop[r] - mt) + "px";
  cv.style.width = w + "px";
  cv.style.height = h + "px";
  page.appendChild(cv);

  const datasets = [];
  datasets.push({
    data: oneToOne.map(p => ({ x: p[0], y: p[1] })),
    showLine: true, borderColor: "#000", borderWidth: 9, borderDash: [34, 22],
    pointRadius: 0, fill: false, clip: 0, order: 0
  });
  for (let b = 0; b < 4; b++) {
    const s = panelSlope[r][c][b], k = panelIcpt[r][c][b];
    datasets.push({
      label: bands[b] + " fit",
      data: [{ x: axisMin, y: s * axisMin + k }, { x: axisMax, y: s * axisMax + k }],
      showLine: true, borderColor: lineColors[b], borderWidth: 7,
      pointRadius: 0, fill: false, clip: 0, order: 4 - b
    });
    datasets.push({
      label: bands[b],
      data: panelPoints[r][c][b].map(p => ({ x: p[0], y: p[1] })),
      showLine: false, pointStyle: markerShapes[b], pointRadius: markerSizes[b],
      backgroundColor: markerColors[b], borderColor: markerColors[b], borderWidth: 3,
      order: 8 - b
    });
  }

  const gridOpts = { color: "#b0b0b0", lineWidth: 4, tickColor: "#000", tickWidth: 5, tickLength: 18 };

  new Chart(cv, {
    type: "scatter",
    data: { datasets: datasets },
    options: {
      responsive: false,
      animation: false,
      devicePixelRatio: 1,
      layout: { padding: { left: 0, top: mt, right: mr, bottom: 0 } },
      plugins: {
        legend: { display: false },
        tooltip: { enabled: false },
        panelDecor: { row: r, col: c }
      },
      scales: {
        x: {
          type: "linear", min: axisMin, max: axisMax,
          afterFit: s => { s.height = mb; },
          afterBuildTicks: s => { s.ticks = xTicks.map(v => ({ value: v })); },
          grid: gridOpts,
          border: { display: false },
          ticks: {
            display: r === 5, padding: 8, maxRotation: 0, minRotation: 0, autoSkip: false,
            color: "#000", font: { family: FONT, size: 67 },
            callback: (v, i) => xTickLabels[i]
          }
        },
        y: {
          type: "linear", min: axisMin, max: axisMax,
          afterFit: s => { s.width = ml; },
          afterBuildTicks: s => { s.ticks = yTicks.map(v => ({ value: v })); },
          grid: gridOpts,
          border: { display: false },
          ticks: {
            display: c === 0, padding: 21, autoSkip: false,
            color: "#000", font: { family: FONT, size: 67 },
            callback: (v, i) => yTickLabels[i]
          }
        }
      }
    },
    plugins: [panelDecor]
  });
}

for (let r = 0; r < 6; r++) {
  for (let c = 0; c < 4; c++) makePanel(r, c);
}
</script>
</body>
</html>
